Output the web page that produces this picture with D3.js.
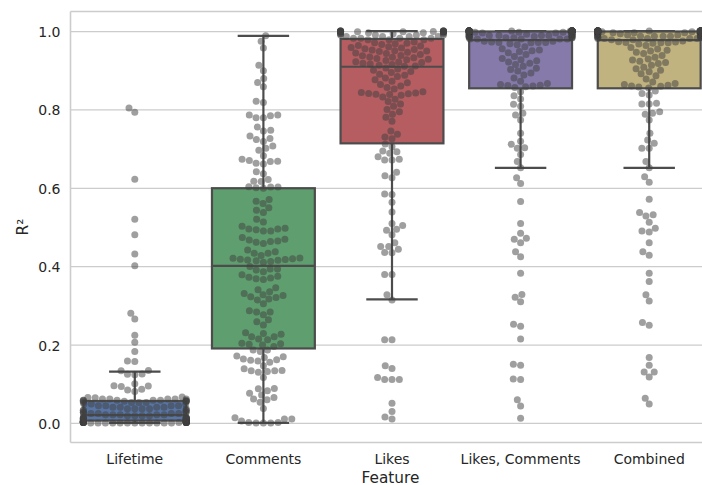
<!DOCTYPE html>
<html>
<head>
<meta charset="utf-8">
<script src="https://cdn.jsdelivr.net/npm/d3@7"></script>
<style>
body { margin: 0; background: #fff; }
svg { display: block; }
</style>
</head>
<body>
<script>
// categories and colours (seaborn deep, desaturated for boxes)
var categories = ["Lifetime", "Comments", "Likes", "Likes, Comments", "Combined"];
var boxColors = ["#5875a4", "#5f9e6e", "#b55d60", "#857aaa", "#c1b37f"];

// box statistics
var q1 = [0.006, 0.190, 0.7135, 0.854, 0.854];
var medians = [0.020, 0.401, 0.909, 0.977, 0.977];
var q3 = [0.056, 0.599, 0.980, 0.999, 0.999];
var whiskLo = [0.0, 0.0, 0.3155, 0.651, 0.651];
var whiskHi = [0.131, 0.988, 1.0, 1.0, 1.0];

var yTicks = [0.0, 0.2, 0.4, 0.6, 0.8, 1.0];

// R^2 values per feature set (estimated from the swarm)
var lifetimeR2 = [
    0.804, 0.793, 0.622, 0.520, 0.480, 0.431, 0.401, 0.280, 0.265, 0.224,
    0.206, 0.182, 0.158, 0.157, 0.134, 0.133, 0.125, 0.124, 0.123, 0.100,
    0.095, 0.094, 0.093, 0.086, 0.084, 0.080, 0.066, 0.065, 0.064,
    0, 0, 0, 0, 0, 0, 0, 0, 0, 0, 0, 0,
    0.001, 0.001, 0.001, 0.001, 0.001, 0.001, 0.001, 0.001, 0.001, 0.001,
    0.002, 0.002, 0.002, 0.002, 0.002, 0.002, 0.002, 0.002, 0.002, 0.002,
    0.003, 0.003, 0.003, 0.003, 0.003, 0.003, 0.003, 0.003,
    0.004, 0.004, 0.004, 0.004, 0.004, 0.004,
    0.006, 0.006, 0.006, 0.006, 0.008, 0.008, 0.008, 0.008, 0.008,
    0.010, 0.010, 0.010, 0.010, 0.010, 0.012, 0.012, 0.012, 0.012, 0.012,
    0.014, 0.014, 0.014, 0.014,
    0.018, 0.018, 0.018, 0.018, 0.021, 0.021, 0.021, 0.021, 0.021,
    0.024, 0.024, 0.024, 0.024, 0.024, 0.027, 0.027, 0.027, 0.027,
    0.032, 0.032, 0.032, 0.032, 0.036, 0.036, 0.036, 0.036, 0.036,
    0.040, 0.040, 0.040, 0.040, 0.044, 0.044, 0.044, 0.044, 0.048, 0.048, 0.048,
    0.052, 0.052, 0.052, 0.052, 0.055, 0.055, 0.055, 0.055, 0.055,
    0.058, 0.058, 0.058, 0.058, 0.058, 0.058, 0.061, 0.061, 0.061, 0.061, 0.061
];

var commentsR2 = [
    0.988, 0.974, 0.957, 0.913, 0.899, 0.879, 0.869, 0.858, 0.821, 0.818,
    0.786, 0.786, 0.784, 0.779, 0.779, 0.755, 0.747, 0.745, 0.732, 0.726, 0.723, 0.718,
    0.707, 0.701, 0.696, 0.682, 0.673, 0.670, 0.668, 0.667, 0.663, 0.661, 0.641, 0.636,
    0.621, 0.617, 0.616, 0.603, 0.602, 0.602, 0.600, 0.599,
    0.570, 0.566, 0.560, 0.549, 0.543, 0.537, 0.520, 0.513, 0.502, 0.497, 0.495, 0.495,
    0.493, 0.490, 0.490, 0.473, 0.469, 0.467, 0.464, 0.463, 0.461, 0.458, 0.441, 0.437,
    0.433, 0.433, 0.427, 0.421, 0.420, 0.419, 0.418, 0.417, 0.416, 0.415, 0.414, 0.412, 0.410,
    0.399, 0.393, 0.393, 0.390, 0.386, 0.378, 0.374, 0.372, 0.370, 0.368, 0.366,
    0.345, 0.340, 0.335, 0.330, 0.327, 0.325, 0.322, 0.320, 0.316, 0.314, 0.304,
    0.286, 0.283, 0.283, 0.276, 0.263, 0.258, 0.250, 0.230, 0.228, 0.226, 0.220, 0.220,
    0.214, 0.212, 0.203, 0.202, 0.201, 0.199, 0.195,
    0.186, 0.186, 0.182, 0.171, 0.169, 0.167, 0.163, 0.161, 0.160, 0.158, 0.155,
    0.146, 0.138, 0.134, 0.133, 0.133, 0.131, 0.129, 0.116,
    0.088, 0.087, 0.082, 0.076, 0.071, 0.065, 0.061, 0.059, 0.053, 0.037,
    0.013, 0.010, 0.010, 0.005, 0.001, 0.001, 0.000, 0.000, 0.000
];

var likesR2 = [
    1.000, 1.000, 1.000, 1.000, 1.000, 1.000, 1.000, 1.000,
    0.999, 0.999, 0.999, 0.999, 0.999, 0.999, 0.998, 0.998, 0.998, 0.998, 0.998,
    0.996, 0.996, 0.996, 0.996, 0.993, 0.993, 0.993, 0.993, 0.990, 0.990, 0.990, 0.990,
    0.986, 0.986, 0.986, 0.986, 0.982, 0.982, 0.982, 0.982, 0.978, 0.978, 0.978,
    0.972, 0.970, 0.969, 0.968, 0.966, 0.963, 0.962, 0.960, 0.958, 0.957, 0.955, 0.953,
    0.952, 0.950, 0.949, 0.948, 0.946, 0.944, 0.943, 0.940, 0.938, 0.937, 0.934, 0.933,
    0.932, 0.930, 0.928, 0.927, 0.925, 0.922, 0.921, 0.920, 0.918, 0.916, 0.915, 0.913,
    0.911, 0.910,
    0.906, 0.903, 0.900, 0.897, 0.894, 0.890, 0.887, 0.884, 0.880, 0.876, 0.872, 0.868,
    0.864, 0.860, 0.856, 0.852, 0.845, 0.843, 0.842, 0.841, 0.840, 0.839, 0.838, 0.836,
    0.832, 0.826, 0.820, 0.814, 0.808, 0.800, 0.794, 0.788, 0.780, 0.770, 0.745, 0.737,
    0.730, 0.725,
    0.712, 0.705, 0.694, 0.692, 0.688, 0.679, 0.673, 0.671, 0.671, 0.640, 0.631, 0.626,
    0.584, 0.583, 0.563, 0.538, 0.509, 0.504, 0.494, 0.492, 0.480, 0.460, 0.450, 0.450,
    0.443, 0.435, 0.434, 0.379, 0.379, 0.327, 0.314, 0.212, 0.212, 0.146, 0.139, 0.116,
    0.111, 0.111, 0.111, 0.050, 0.029, 0.015, 0.010
];

var likesCommentsR2 = [
    1.000, 1.000, 1.000, 1.000, 1.000, 1.000, 1.000, 1.000, 1.000, 1.000,
    1.000, 1.000, 1.000, 1.000, 1.000, 1.000, 1.000, 1.000, 1.000, 1.000,
    1.000, 1.000, 1.000, 1.000, 1.000, 1.000, 1.000, 1.000, 1.000, 1.000,
    1.000, 1.000, 1.000, 1.000, 1.000, 1.000, 1.000, 1.000, 1.000, 1.000,
    0.997, 0.997, 0.997, 0.997, 0.997, 0.997, 0.995, 0.995, 0.995, 0.995, 0.995, 0.995,
    0.992, 0.992, 0.992, 0.992, 0.992, 0.992, 0.989, 0.989, 0.989, 0.989, 0.989, 0.989,
    0.986, 0.986, 0.986, 0.986, 0.986, 0.986, 0.983, 0.983, 0.983, 0.983, 0.983,
    0.980, 0.980, 0.980, 0.980, 0.980,
    0.974, 0.974, 0.972, 0.971, 0.971, 0.971, 0.970, 0.968, 0.965, 0.960, 0.955, 0.952,
    0.950, 0.948, 0.945, 0.940, 0.935, 0.930, 0.927, 0.924, 0.921, 0.918, 0.915, 0.910,
    0.905, 0.902, 0.898, 0.893, 0.888, 0.880, 0.872, 0.866, 0.864, 0.862, 0.861, 0.860,
    0.858, 0.856,
    0.845, 0.835, 0.827, 0.813, 0.808, 0.790, 0.786, 0.773, 0.739, 0.719, 0.711, 0.702,
    0.701, 0.685, 0.667, 0.651, 0.626, 0.611, 0.565, 0.509, 0.484, 0.471, 0.469, 0.460,
    0.437, 0.424, 0.382, 0.328, 0.321, 0.309, 0.252, 0.247, 0.214, 0.150, 0.147, 0.112,
    0.111, 0.059, 0.043, 0.012
];

var combinedR2 = [
    1.000, 1.000, 1.000, 1.000, 1.000, 1.000, 1.000, 1.000, 1.000, 1.000,
    1.000, 1.000, 1.000, 1.000, 1.000, 1.000, 1.000, 1.000, 1.000, 1.000,
    1.000, 1.000, 1.000, 1.000, 1.000, 1.000, 1.000, 1.000, 1.000, 1.000,
    1.000, 1.000, 1.000, 1.000, 1.000, 1.000, 1.000, 1.000,
    0.998, 0.998, 0.998, 0.998, 0.996, 0.996, 0.996, 0.996, 0.996, 0.996,
    0.993, 0.993, 0.993, 0.993, 0.993, 0.993, 0.990, 0.990, 0.990, 0.990, 0.990, 0.990,
    0.987, 0.987, 0.987, 0.987, 0.987, 0.987, 0.984, 0.984, 0.984, 0.984, 0.984,
    0.981, 0.981, 0.981, 0.981, 0.981, 0.978, 0.978,
    0.975, 0.973, 0.972, 0.971, 0.970, 0.970, 0.969, 0.967, 0.963, 0.958, 0.954, 0.951,
    0.949, 0.946, 0.943, 0.938, 0.933, 0.929, 0.926, 0.923, 0.920, 0.917, 0.913, 0.908,
    0.904, 0.900, 0.896, 0.891, 0.886, 0.878, 0.870, 0.866, 0.864, 0.862, 0.860, 0.859,
    0.857, 0.855,
    0.847, 0.841, 0.837, 0.816, 0.814, 0.814, 0.794, 0.790, 0.788, 0.773, 0.739, 0.722,
    0.714, 0.701, 0.701, 0.667, 0.651, 0.628, 0.614, 0.571, 0.537, 0.531, 0.528, 0.512,
    0.497, 0.490, 0.487, 0.460, 0.437, 0.428, 0.382, 0.361, 0.327, 0.311, 0.256, 0.249,
    0.167, 0.147, 0.130, 0.130, 0.117, 0.063, 0.048
];

var seriesR2 = [lifetimeR2, commentsR2, likesR2, likesCommentsR2, combinedR2];

var W = 702, H = 485;
var plotL = 70.5, plotR = 713.5, plotT = 11.5, plotB = 442.5;
var gray = "#4c4c4c";
var textColor = "#262626";
var fontFam = "'DejaVu Sans', sans-serif";

var x = d3.scaleBand().domain(categories).range([plotL, plotR]).padding(0);
var y = d3.scaleLinear().domain([-0.05, 1.05]).range([plotB, plotT]);
var boxW = x.bandwidth() * 0.8;
var dotD = 7;

var svg = d3.select("body").append("svg")
        .attr("width", W)
        .attr("height", H);

// y grid + tick labels
var yAxis = d3.axisLeft(y)
        .tickValues(yTicks)
        .tickFormat(d3.format(".1f"))
        .tickSize(-(plotR - plotL))
        .tickPadding(10);
var gy = svg.append("g")
        .attr("transform", "translate(" + plotL + ",0)")
        .call(yAxis);
gy.select(".domain").remove();
gy.selectAll(".tick line").attr("stroke", "#cccccc").attr("stroke-width", 1.3);
gy.selectAll(".tick text")
        .attr("fill", textColor)
        .attr("dy", "0.39em")
        .style("font-family", fontFam)
        .style("font-size", "14px");

// x tick labels
var xAxis = d3.axisBottom(x).tickSize(0).tickPadding(11.5);
var gx = svg.append("g")
        .attr("transform", "translate(0," + plotB + ")")
        .call(xAxis);
gx.select(".domain").remove();
gx.selectAll(".tick text")
        .attr("fill", textColor)
        .style("font-family", fontFam)
        .style("font-size", "14px");

// spines (right one falls outside the picture)
var spines = svg.append("g")
        .attr("stroke", "#cccccc")
        .attr("stroke-width", 1.6);
spines.append("line").attr("x1", plotL).attr("x2", plotL).attr("y1", plotT).attr("y2", plotB);
spines.append("line").attr("x1", plotL).attr("x2", W).attr("y1", plotT).attr("y2", plotT);
spines.append("line").attr("x1", plotL).attr("x2", W).attr("y1", plotB).attr("y2", plotB);

// boxes
var boxes = svg.append("g");
categories.forEach(function(c, i) {
    var cx = x(c) + x.bandwidth() / 2;
    var g = boxes.append("g");
    // whiskers
    g.append("line")
            .attr("x1", cx).attr("x2", cx)
            .attr("y1", y(q1[i])).attr("y2", y(whiskLo[i]));
    g.append("line")
            .attr("x1", cx).attr("x2", cx)
            .attr("y1", y(q3[i])).attr("y2", y(whiskHi[i]));
    // caps
    g.append("line")
            .attr("x1", cx - boxW / 4).attr("x2", cx + boxW / 4)
            .attr("y1", y(whiskLo[i])).attr("y2", y(whiskLo[i]));
    g.append("line")
            .attr("x1", cx - boxW / 4).attr("x2", cx + boxW / 4)
            .attr("y1", y(whiskHi[i])).attr("y2", y(whiskHi[i]));
    g.append("rect")
            .attr("x", cx - boxW / 2)
            .attr("y", y(q3[i]))
            .attr("width", boxW)
            .attr("height", y(q1[i]) - y(q3[i]))
            .attr("fill", boxColors[i]);
    g.append("line")
            .attr("x1", cx - boxW / 2).attr("x2", cx + boxW / 2)
            .attr("y1", y(medians[i])).attr("y2", y(medians[i]));
    g.selectAll("line, rect")
            .attr("stroke", gray)
            .attr("stroke-width", 2.2);
});

// seaborn-style beeswarm, done in pixel space
function swarm(vals, cx) {
    var pts = vals.map(function(v) {
        return {v: v, u: -y(v), x: cx};
    });
    pts.sort(function(a, b) { return a.u - b.u; });
    var placed = [];
    var d2 = dotD * dotD;
    pts.forEach(function(p) {
        var nb = [];
        for (var j = placed.length - 1; j >= 0; j--) {
            if (p.u - placed[j].u < dotD) {
                nb.unshift(placed[j]);
            } else {
                break;
            }
        }
        var cands = [cx];
        var leftFirst = true;
        nb.forEach(function(q) {
            var dy = p.u - q.u;
            var dx = Math.sqrt(Math.max(d2 - dy * dy, 0)) * 1.05;
            if (leftFirst) {
                cands.push(q.x - dx, q.x + dx);
            } else {
                cands.push(q.x + dx, q.x - dx);
            }
            leftFirst = !leftFirst;
        });
        var order = cands.map(function(c, k) { return {c: c, k: k}; });
        order.sort(function(a, b) {
            return (Math.abs(a.c - cx) - Math.abs(b.c - cx)) || (a.k - b.k);
        });
        for (var k = 0; k < order.length; k++) {
            var xc = order[k].c;
            var ok = nb.every(function(q) {
                var ddx = q.x - xc, ddy = q.u - p.u;
                return ddx * ddx + ddy * ddy >= d2 - 1e-9;
            });
            if (ok) {
                p.x = xc;
                break;
            }
        }
        placed.push(p);
    });
    // gutters
    var half = boxW / 2;
    pts.forEach(function(p) {
        if (p.x < cx - half) p.x = cx - half;
        if (p.x > cx + half) p.x = cx + half;
    });
    return pts;
}

var dots = svg.append("g");
categories.forEach(function(c, i) {
    var cx = x(c) + x.bandwidth() / 2;
    var pts = swarm(seriesR2[i], cx);
    dots.selectAll(null)
            .data(pts)
            .enter()
            .append("circle")
            .attr("cx", function(d) { return d.x; })
            .attr("cy", function(d) { return y(d.v); })
            .attr("r", dotD / 2)
            .attr("fill", "rgb(64,64,64)")
            .attr("fill-opacity", 0.5);
});

// axis labels
svg.append("text")
        .attr("x", (plotL + plotR) / 2 - 1.5)
        .attr("y", 482.5)
        .attr("text-anchor", "middle")
        .attr("fill", textColor)
        .style("font-family", fontFam)
        .style("font-size", "15.3px")
        .text("Feature");

svg.append("text")
        .attr("transform", "translate(28.3," + ((plotT + plotB) / 2) + ") rotate(-90)")
        .attr("text-anchor", "middle")
        .attr("fill", textColor)
        .style("font-family", fontFam)
        .style("font-size", "15.3px")
        .text("R²");
</script>
</body>
</html>
